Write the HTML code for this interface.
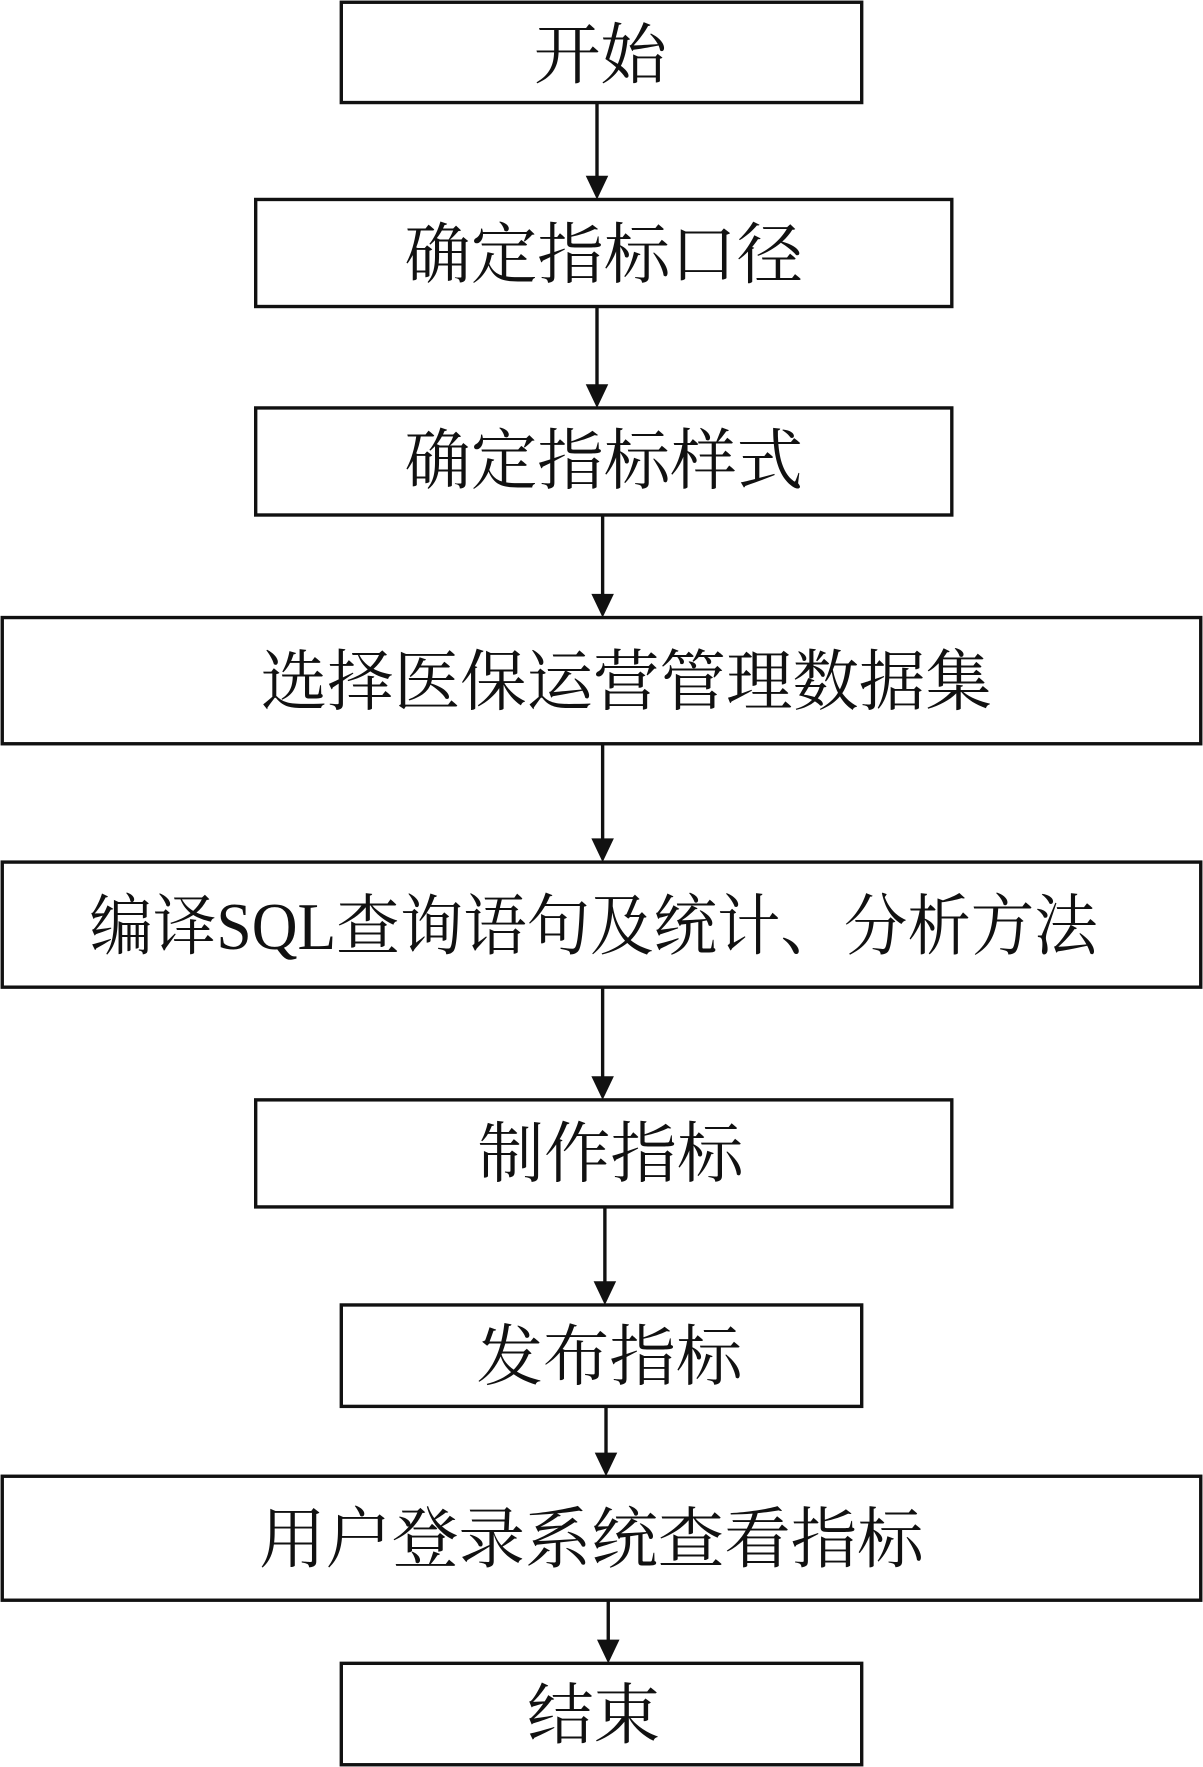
<!DOCTYPE html>
<html><head><meta charset="utf-8"><style>
html,body{margin:0;padding:0;background:#fff;}
svg{display:block;}
text{font-family:"Liberation Serif","Noto Serif CJK SC",serif;font-size:59px;fill:#111;text-anchor:middle;dominant-baseline:central;}
</style></head><body>
<svg width="1203" height="1767" viewBox="0 0 1068 1568" preserveAspectRatio="none" xmlns="http://www.w3.org/2000/svg">
<g fill="none" stroke="#111" stroke-width="3">
<rect x="303" y="2" width="462" height="89"/>
<rect x="227" y="177" width="618" height="95"/>
<rect x="227" y="362" width="618" height="95"/>
<rect x="2" y="548" width="1064" height="112"/>
<rect x="2" y="765" width="1064" height="111"/>
<rect x="227" y="976" width="618" height="95"/>
<rect x="303" y="1158" width="462" height="90"/>
<rect x="2" y="1310" width="1064" height="110"/>
<rect x="303" y="1476" width="462" height="90"/>
</g>
<g stroke="#111" stroke-width="3">
<line x1="530" y1="91" x2="530" y2="160"/>
<line x1="530" y1="272" x2="530" y2="345"/>
<line x1="535" y1="457" x2="535" y2="531"/>
<line x1="535" y1="660" x2="535" y2="748"/>
<line x1="535" y1="876" x2="535" y2="959"/>
<line x1="537" y1="1071" x2="537" y2="1141"/>
<line x1="538" y1="1248" x2="538" y2="1293"/>
<line x1="540" y1="1420" x2="540" y2="1459"/>
</g>
<g fill="#111">
<path d="M520,156 L540,156 L530,177 z"/>
<path d="M520,341 L540,341 L530,362 z"/>
<path d="M525,527 L545,527 L535,548 z"/>
<path d="M525,744 L545,744 L535,765 z"/>
<path d="M525,955 L545,955 L535,976 z"/>
<path d="M527,1137 L547,1137 L537,1158 z"/>
<path d="M528,1289 L548,1289 L538,1310 z"/>
<path d="M530,1455 L550,1455 L540,1476 z"/>
</g>
<text x="533" y="50">开始</text>
<text x="536" y="227">确定指标口径</text>
<text x="536" y="410">确定指标样式</text>
<text x="556" y="606">选择医保运营管理数据集</text>
<text x="527" y="823" textLength="895" lengthAdjust="spacingAndGlyphs">编译SQL查询语句及统计、分析方法</text>
<text x="542" y="1025">制作指标</text>
<text x="541" y="1205">发布指标</text>
<text x="525" y="1367">用户登录系统查看指标</text>
<text x="527" y="1523">结束</text>
</svg>
</body></html>
